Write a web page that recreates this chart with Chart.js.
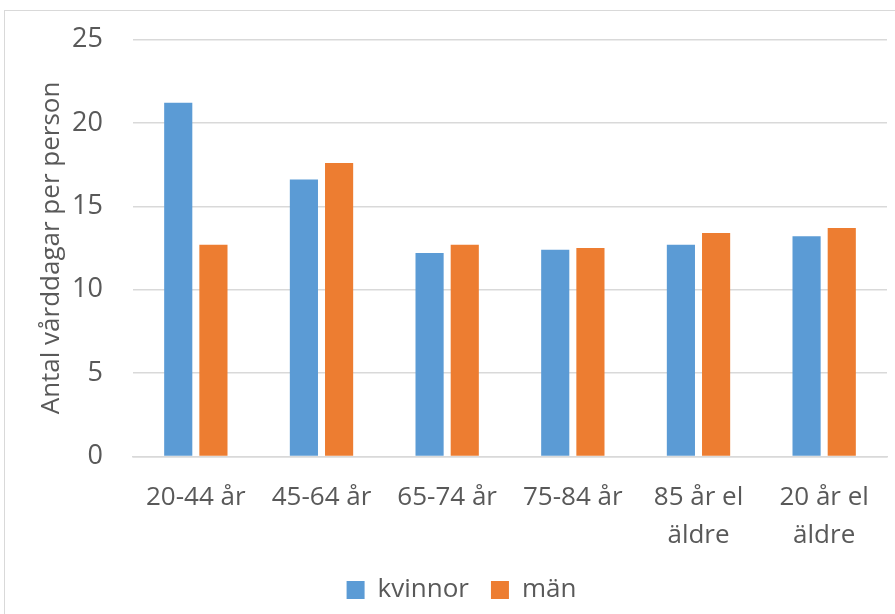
<!DOCTYPE html>
<html>
<head>
<meta charset="utf-8">
<script src="https://cdn.jsdelivr.net/npm/chart.js@4/dist/chart.umd.min.js"></script>
<style>
  html, body { margin: 0; padding: 0; background: #fff; }
  #frame { position: absolute; left: 4px; top: 10px; width: 900px; height: 620px; border: 1px solid #d9d9d9; }
  #wrap { position: absolute; left: 0; top: 0; width: 895px; height: 614px; }
</style>
</head>
<body>
<div id="frame"></div>
<div id="wrap"><canvas id="vardChart" width="895" height="614"></canvas></div>
<script>
const categories = [['20-44 år'], ['45-64 år'], ['65-74 år'], ['75-84 år'], ['85 år el', 'äldre'], ['20 år el', 'äldre']];
const kvinnor = [21.2, 16.6, 12.2, 12.4, 12.7, 13.2];
const man = [12.7, 17.6, 12.7, 12.5, 13.4, 13.7];
const yTicks = [0, 5, 10, 15, 20, 25];

document.addEventListener('DOMContentLoaded', function() {
    const canvas = document.getElementById('vardChart');
    const ctx = canvas.getContext('2d');
    const txt = '#595959';
    const fam = "'Open Sans', sans-serif";

    new Chart(ctx, {
        type: 'bar',
        data: {
            labels: categories,
            datasets: [
                { label: 'kvinnor', data: kvinnor, backgroundColor: '#5B9BD5' },
                { label: 'män', data: man, backgroundColor: '#ED7D31' }
            ]
        },
        options: {
            responsive: false,
            animation: false,
            devicePixelRatio: 1,
            categoryPercentage: 0.56,
            barPercentage: 0.8,
            layout: { padding: { left: 36, right: 8, top: 38, bottom: 1 } },
            plugins: {
                tooltip: { enabled: false },
                legend: {
                    position: 'bottom',
                    labels: {
                        boxWidth: 18,
                        boxHeight: 18,
                        padding: 22,
                        color: txt,
                        font: { family: fam, size: 26 }
                    }
                }
            },
            scales: {
                x: {
                    grid: { display: false },
                    border: { color: '#d9d9d9', width: 1.5 },
                    ticks: {
                        color: txt,
                        font: { family: fam, size: 26, lineHeight: 1.47 },
                        maxRotation: 0,
                        padding: 14
                    },
                    afterFit: function(scale) { scale.height = 98.5; }
                },
                y: {
                    min: 0,
                    max: 25,
                    afterBuildTicks: function(scale) {
                        scale.ticks = yTicks.map(v => ({ value: v }));
                    },
                    grid: { color: '#d9d9d9', lineWidth: 1.5, drawTicks: false },
                    border: { display: false },
                    ticks: {
                        color: txt,
                        font: { family: fam, size: 27, lineHeight: 0.7 },
                        padding: 30
                    },
                    title: {
                        display: true,
                        text: 'Antal vårddagar per person',
                        color: txt,
                        font: { family: fam, size: 26 },
                        padding: { top: 0, bottom: 4 }
                    },
                    afterFit: function(scale) { scale.width = 97; }
                }
            }
        }
    });
});
</script>
</body>
</html>
